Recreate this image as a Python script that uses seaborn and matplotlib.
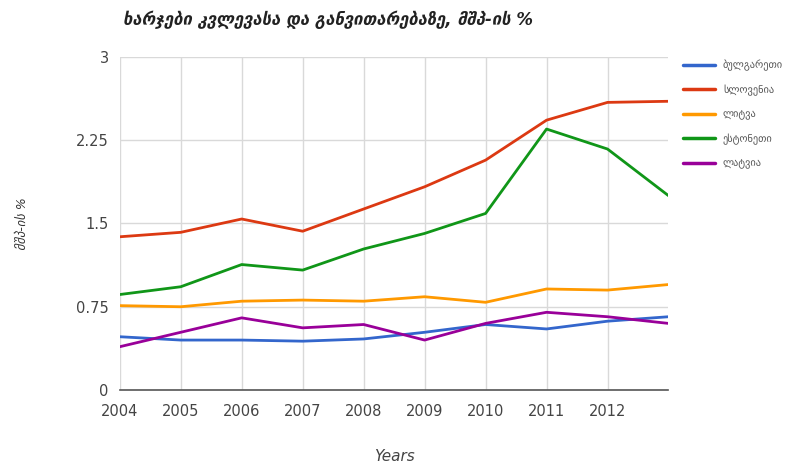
import matplotlib
matplotlib.use("Agg")
import matplotlib.pyplot as plt
import seaborn as sns
import pandas as pd

years = [2004, 2005, 2006, 2007, 2008, 2009, 2010, 2011, 2012, 2013]
countries = ["ბულგარეთი", "სლოვენია", "ლიტვა", "ესტონეთი", "ლატვია"]
bulgaria = [0.48, 0.45, 0.45, 0.44, 0.46, 0.52, 0.59, 0.55, 0.62, 0.66]
slovenia = [1.38, 1.42, 1.54, 1.43, 1.63, 1.83, 2.07, 2.43, 2.59, 2.60]
lithuania = [0.76, 0.75, 0.80, 0.81, 0.80, 0.84, 0.79, 0.91, 0.90, 0.95]
estonia = [0.86, 0.93, 1.13, 1.08, 1.27, 1.41, 1.59, 2.35, 2.17, 1.75]
latvia = [0.39, 0.52, 0.65, 0.56, 0.59, 0.45, 0.60, 0.70, 0.66, 0.60]
colors = ["#3366cc", "#dc3912", "#ff9900", "#109618", "#990099"]

y_ticks = [0, 0.75, 1.5, 2.25, 3]
y_labels = ["0", "0.75", "1.5", "2.25", "3"]
x_labels = [str(y) for y in years[:-1]]

rows = []
for name, vals in zip(countries, [bulgaria, slovenia, lithuania, estonia, latvia]):
    for yr, v in zip(years, vals):
        rows.append({"year": yr, "value": v, "country": name})
df = pd.DataFrame(rows)

sns.set_style("white")
plt.rcParams["font.family"] = ["DejaVu Sans"]

fig = plt.figure(figsize=(7.93, 4.66), dpi=100)
ax = fig.add_axes([0.151, 0.163, 0.692, 0.715])

sns.lineplot(data=df, x="year", y="value", hue="country", palette=colors,
             hue_order=countries, linewidth=2, ax=ax)

ax.set_xlim(2004, 2013)
ax.set_ylim(0, 3)
ax.set_xticks(years[:-1])
ax.set_xticklabels(x_labels, fontsize=10.5, color="#444444")
ax.set_yticks(y_ticks)
ax.set_yticklabels(y_labels, fontsize=10.5, color="#444444")
ax.grid(True, color="#d9d9d9", linewidth=1)
ax.tick_params(axis="x", length=0, pad=10)
ax.tick_params(axis="y", length=0, pad=8)
for side in ["top", "right", "left"]:
    ax.spines[side].set_visible(False)
ax.spines["bottom"].set_color("#555555")
ax.spines["bottom"].set_linewidth(1.2)

ax.set_xlabel("Years", fontsize=11, style="italic", color="#444444", labelpad=22)
ax.set_ylabel("მშპ-ის %", fontsize=9, style="italic", color="#333333", labelpad=34)

fig.text(0.155, 0.958, "ხარჯები კვლევასა და განვითარებაზე, მშპ-ის %",
         fontsize=12, style="italic", fontweight="bold", color="#222222", va="center")

leg = ax.legend(loc="upper left", bbox_to_anchor=(1.01, 1.02), frameon=False,
                fontsize=7.5, handlelength=3, labelspacing=1.3)
for line in leg.get_lines():
    line.set_linewidth(2.5)
for t in leg.get_texts():
    t.set_color("#555555")

fig.savefig("out.png", dpi=100)
